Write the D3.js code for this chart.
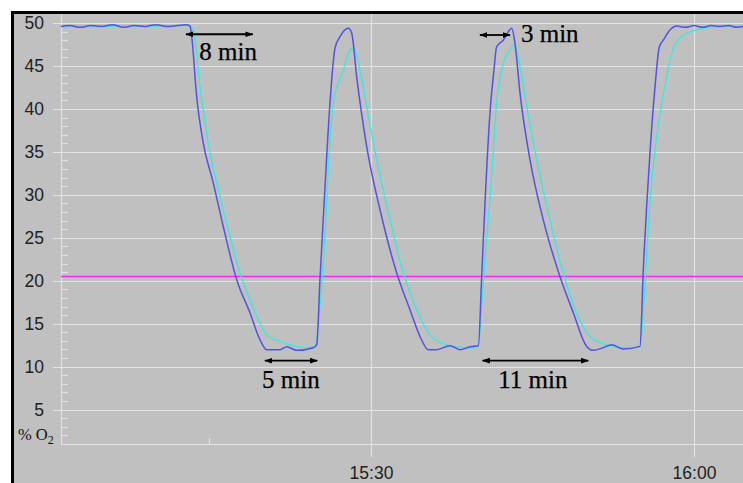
<!DOCTYPE html>
<html>
<head>
<meta charset="utf-8">
<script src="https://cdn.jsdelivr.net/npm/d3@7/dist/d3.min.js"></script>
<style>
  html, body { margin: 0; padding: 0; background: #fff; }
  svg { display: block; }
</style>
</head>
<body>
<svg id="chart" width="743" height="483"></svg>
<script>
// Oxygen traces: [minutes after 15:00, % O2]
const sensorA = [
  [1.2,49.6],[2.0,49.7],[3.0,49.5],[4.0,49.7],[5.0,49.6],[6.0,49.8],[7.0,49.5],[8.0,49.7],
  [9.0,49.6],[10.0,49.8],[11.0,49.6],[12.0,49.7],[12.8,49.8],[13.19,49.65],
  [13.35,48.4],[13.81,41.43],[14.42,36.05],[15.35,31.40],[16.28,26.31],[17.53,20.12],[18.76,16.28],
  [19.69,13.14],[20.31,11.98],[21.55,11.98],[22.17,12.33],[23.10,11.90],[24.64,12.21],[24.96,12.56],
  [25.26,20.12],[25.73,30.97],[26.19,40.66],[26.66,47.09],[27.12,48.41],[27.89,49.38],[28.21,48.80],
  [28.67,43.76],[29.60,35.62],[30.84,28.26],[32.39,20.90],[33.62,16.63],[34.55,13.52],[35.32,11.98],
  [36.10,11.98],[37.34,12.44],[38.27,11.98],[39.20,12.33],[39.97,12.44],
  [40.28,20.50],[40.59,29.07],[41.05,39.53],[41.42,44.53],[41.67,47.24],[42.29,48.02],[42.75,48.99],
  [43.07,49.38],[43.37,47.67],[43.84,41.83],[44.77,34.07],[46.00,27.09],[47.55,20.50],[48.79,16.28],
  [50.03,12.36],[50.65,11.90],[51.57,12.21],[52.35,12.56],[53.43,12.06],[54.98,12.36],
  [55.29,21.28],[55.91,34.88],[56.38,42.59],[56.78,47.24],[57.15,48.02],[57.77,49.19],[58.39,49.65],
  [59.2,49.5],[60.0,49.7],[60.8,49.5],[61.6,49.7],[62.4,49.6],[63.2,49.7],[64.0,49.5],[64.6,49.6]
];
const sensorB = [
  [1.2,49.6],[3.0,49.7],[5.0,49.6],[7.0,49.7],[9.0,49.6],[11.0,49.7],[13.0,49.7],[13.5,49.19],
  [14.12,42.59],[15.05,34.88],[15.98,29.80],[16.90,25.15],[17.83,20.90],[18.76,17.79],[19.69,15.08],
  [20.31,13.72],[21.55,12.94],[22.78,12.44],[24.03,12.21],[24.80,12.33],
  [25.26,17.01],[25.73,25.15],[26.03,32.91],[26.50,40.66],[26.96,42.99],[27.43,44.53],[28.05,46.86],
  [28.36,47.06],[28.98,44.53],[29.60,40.27],[30.53,34.07],[31.77,27.09],[33.00,20.90],[34.24,16.63],
  [35.48,13.72],[36.71,12.67],[37.96,12.29],[39.19,12.17],[39.97,12.33],
  [40.28,17.41],[40.75,25.15],[41.05,29.42],[41.36,35.23],[41.67,40.70],[42.29,45.31],[42.91,46.86],
  [43.28,47.44],[43.84,44.92],[44.46,40.27],[45.39,34.07],[46.62,27.09],[47.86,20.90],[49.10,16.24],
  [50.34,13.52],[51.58,12.67],[52.82,12.29],[54.05,12.17],[54.98,12.33],
  [55.44,19.34],[55.91,29.03],[56.53,36.78],[57.00,40.66],[57.30,42.59],[57.77,45.70],[58.39,47.83],
  [59.32,48.80],[60.55,49.30],[61.79,49.57],[63.0,49.6],[64.6,49.65]
];
// Reference level (ambient air)
const referenceLevel = 20.6;

// Axis ticks
const yMajorTicks = [5, 10, 15, 20, 25, 30, 35, 40, 45, 50];
const yMinorTicks = d3.range(2, 50).filter(v => v % 5 !== 0);
const xMajorTicks = [30, 60];   // minutes after 15:00
const xMinorTicks = [15];
const yAxisTitle = ["% O", "2"];

// Duration notes: arrow from t0 to t1 at level v, label anchored at (tx, tv)
const notes = [
  { label: "8 min",  t0: 12.82, t1: 19.01, v: 48.69, tx: 14.05, tv: 45.70 },
  { label: "3 min",  t0: 40.12, t1: 42.91, v: 48.60, tx: 43.93, tv: 47.83 },
  { label: "5 min",  t0: 20.15, t1: 25.01, v: 10.70, tx: 19.88, tv: 7.50 },
  { label: "11 min", t0: 40.37, t1: 50.18, v: 10.70, tx: 41.82, tv: 7.50 }
];

const W = 743, H = 483;
const plotL = 61, plotR = 743, plotT = 14, plotB = 444;
const base = new Date(2024, 0, 1, 15, 0, 0);
const toDate = m => new Date(base.getTime() + m * 60000);

const x = d3.scaleTime().domain([toDate(1.21), toDate(64.55)]).range([plotL, plotR]);
const y = d3.scaleLinear().domain([1, 50]).range([plotB, 23]);

const svg = d3.select("#chart");
const grid = "#e2e2e2";

// panel and frame
svg.append("rect").attr("x", 0).attr("y", 0).attr("width", W).attr("height", H).attr("fill", "#fff");
svg.append("rect").attr("x", 11).attr("y", 11).attr("width", W - 11).attr("height", H - 11).attr("fill", "#c0c0c0");
svg.append("line").attr("x1", 12.5).attr("x2", 12.5).attr("y1", 11).attr("y2", H)
  .attr("stroke", "#000").attr("stroke-width", 3);
svg.append("line").attr("x1", 11).attr("x2", W).attr("y1", 12.5).attr("y2", 12.5)
  .attr("stroke", "#000").attr("stroke-width", 3);

// horizontal gridlines
svg.append("g").selectAll("line").data(yMajorTicks).join("line")
  .attr("x1", plotL - 8).attr("x2", plotR)
  .attr("y1", d => Math.round(y(d)) + 0.5).attr("y2", d => Math.round(y(d)) + 0.5)
  .attr("stroke", grid).attr("stroke-width", 1.2);

// minor y ticks
svg.append("g").selectAll("line").data(yMinorTicks).join("line")
  .attr("x1", plotL).attr("x2", plotL + 7)
  .attr("y1", d => Math.round(y(d)) + 0.5).attr("y2", d => Math.round(y(d)) + 0.5)
  .attr("stroke", grid).attr("stroke-width", 1.2);

// y axis labels
const yAxis = d3.axisLeft(y).tickValues(yMajorTicks).tickSize(0).tickPadding(17).tickFormat(d3.format("d"));
const gy = svg.append("g").attr("transform", `translate(${plotL},0)`).call(yAxis);
gy.select(".domain").remove();
gy.selectAll("text").attr("fill", "#222").style("font-family", "'Liberation Sans', Arial, sans-serif").style("font-size", "17.5px");

// axis frame lines
svg.append("line").attr("x1", plotL + 0.5).attr("x2", plotL + 0.5).attr("y1", plotT).attr("y2", plotB)
  .attr("stroke", grid).attr("stroke-width", 1.2);
svg.append("line").attr("x1", plotL).attr("x2", plotR).attr("y1", plotB + 0.5).attr("y2", plotB + 0.5)
  .attr("stroke", grid).attr("stroke-width", 1.2);

// x axis: half-hour gridlines with labels
const xAxis = d3.axisBottom(x).tickValues(xMajorTicks.map(toDate)).tickSize(13).tickFormat(d3.timeFormat("%H:%M"));
const gx = svg.append("g").attr("transform", `translate(0,${plotB})`).call(xAxis);
gx.select(".domain").remove();
gx.selectAll(".tick line").attr("y1", plotT - plotB).attr("y2", 13).attr("stroke", grid).attr("stroke-width", 1.2);
gx.selectAll(".tick text").attr("y", 35).attr("dy", null).attr("fill", "#222")
  .style("font-family", "'Liberation Sans', Arial, sans-serif").style("font-size", "17.5px");

// quarter-hour ticks
svg.append("g").selectAll("line").data(xMinorTicks).join("line")
  .attr("x1", d => Math.round(x(toDate(d))) + 0.5).attr("x2", d => Math.round(x(toDate(d))) + 0.5)
  .attr("y1", plotB - 6).attr("y2", plotB)
  .attr("stroke", grid).attr("stroke-width", 1.2);

// y axis title with subscript
const title = svg.append("text").attr("x", 18).attr("y", 440)
  .style("font-family", "'Liberation Serif', 'Times New Roman', serif").style("font-size", "16.5px").attr("fill", "#111");
title.append("tspan").text(yAxisTitle[0]);
title.append("tspan").attr("dy", 4).style("font-size", "12px").text(yAxisTitle[1]);

// reference line
const refY = Math.round(y(referenceLevel)) + 0.5;
svg.append("line").attr("x1", plotL).attr("x2", plotR)
  .attr("y1", refY).attr("y2", refY)
  .attr("stroke", "#f028f0").attr("stroke-width", 1.3);

// traces
const line = d3.line().x(d => x(toDate(d[0]))).y(d => y(d[1])).curve(d3.curveMonotoneX);
svg.append("path").datum(sensorB).attr("d", line).attr("fill", "none")
  .attr("stroke", "#40e6e0").attr("stroke-width", 1.4);
svg.append("path").datum(sensorA).attr("d", line).attr("fill", "none")
  .attr("stroke", "#5252e6").attr("stroke-width", 1.5);

// arrowheads
const defs = svg.append("defs");
defs.append("marker").attr("id", "head").attr("viewBox", "0 0 10 10")
  .attr("refX", 9).attr("refY", 5).attr("markerWidth", 8).attr("markerHeight", 8)
  .attr("markerUnits", "userSpaceOnUse").attr("orient", "auto-start-reverse")
  .append("path").attr("d", "M0,1.5 L10,5 L0,8.5 Z").attr("fill", "#000");

const gn = svg.append("g");
gn.selectAll("line").data(notes).join("line")
  .attr("x1", d => x(toDate(d.t0))).attr("x2", d => x(toDate(d.t1)))
  .attr("y1", d => y(d.v)).attr("y2", d => y(d.v))
  .attr("stroke", "#000").attr("stroke-width", 1.8)
  .attr("marker-start", "url(#head)").attr("marker-end", "url(#head)");
gn.selectAll("text").data(notes).join("text")
  .attr("x", d => x(toDate(d.tx))).attr("y", d => y(d.tv))
  .style("font-family", "'Liberation Serif', 'Times New Roman', serif").style("font-size", "25px")
  .attr("fill", "#000").attr("stroke", "#000").attr("stroke-width", 0.25)
  .text(d => d.label);
</script>
</body>
</html>
